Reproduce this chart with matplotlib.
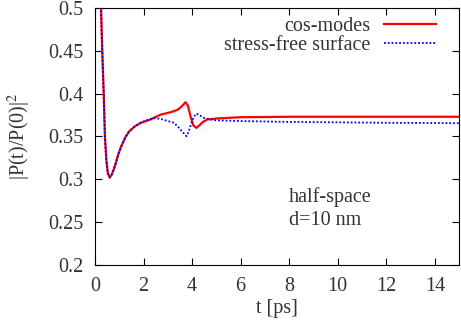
import matplotlib
matplotlib.use("Agg")
import matplotlib.pyplot as plt

plt.rcParams['font.family'] = ['Liberation Serif', 'DejaVu Serif']
plt.rcParams['mathtext.fontset'] = 'stix'

# red: cos-modes
t_cos = [0.2, 0.25, 0.3, 0.36, 0.41, 0.47, 0.53, 0.61, 0.7, 0.78, 0.86, 0.97, 1.09, 1.25,
         1.41, 1.65, 1.9, 2.3, 2.7, 3.0, 3.25, 3.45, 3.6, 3.73, 3.83, 3.93, 4.05, 4.18,
         4.3, 4.45, 4.62, 5.0, 6.0, 8.0, 10.0, 15.0]
p_cos = [0.56, 0.50, 0.45, 0.40, 0.35, 0.322, 0.307, 0.302, 0.306, 0.312, 0.319, 0.330,
         0.339, 0.349, 0.356, 0.362, 0.366, 0.370, 0.3755, 0.3775, 0.3795, 0.382, 0.386,
         0.390, 0.386, 0.374, 0.363, 0.360, 0.363, 0.367, 0.3698, 0.371, 0.3725, 0.373,
         0.373, 0.373]

# blue: stress-free surface
t_sf = [0.2, 0.25, 0.3, 0.36, 0.41, 0.47, 0.53, 0.61, 0.7, 0.78, 0.86, 0.97, 1.09, 1.25,
        1.41, 1.65, 1.9, 2.4, 2.7, 3.0, 3.25, 3.4, 3.52, 3.65, 3.77, 3.85, 3.93, 4.05,
        4.18, 4.3, 4.48, 4.9, 6.0, 8.0, 12.0, 15.0]
p_sf = [0.56, 0.50, 0.45, 0.40, 0.35, 0.322, 0.307, 0.302, 0.306, 0.312, 0.319, 0.330,
        0.339, 0.349, 0.356, 0.362, 0.3665, 0.3715, 0.3706, 0.368, 0.366, 0.362, 0.358,
        0.354, 0.3503, 0.355, 0.362, 0.372, 0.3767, 0.375, 0.3717, 0.369, 0.368, 0.367,
        0.366, 0.3655]

fs = 14.5

fig = plt.figure(figsize=(4.61, 3.23), dpi=100)
ax = fig.add_axes([0.206, 0.18, 0.79, 0.795])

ax.plot(t_cos, p_cos, color='#ff0000', lw=1.6, label='cos-modes')
ax.plot(t_sf, p_sf, color='#0000ff', lw=1.3, ls=(0, (1, 1.1)), label='stress-free surface')

ax.set_xlim(0, 15)
ax.set_ylim(0.2, 0.5)
ax.set_xticks(range(0, 15, 2))
ax.set_yticks([0.2, 0.25, 0.3, 0.35, 0.4, 0.45, 0.5])
ax.set_yticklabels(['0.2', '0.25', '0.3', '0.35', '0.4', '0.45', '0.5'])
ax.tick_params(direction='in', top=True, right=True, labelsize=fs, length=5,
               labelcolor='#333333')
ax.tick_params(axis='x', pad=9)
ax.tick_params(axis='y', pad=8)
ax.set_xlabel('t [ps]', fontsize=fs, labelpad=2, color='#333333')
ax.set_ylabel('|P(t)/P(0)|$^2$', fontsize=fs, labelpad=11, color='#333333')

ax.text(8.0, 0.2657, 'half-space\nd=10 nm', fontsize=fs, linespacing=1.25,
        va='center', color='#333333')

leg = ax.legend(loc='upper right', bbox_to_anchor=(0.959, 0.998), frameon=False,
                markerfirst=False, fontsize=fs, handlelength=2.6, borderaxespad=0,
                labelspacing=0.0, handletextpad=0.65)
for txt in leg.get_texts():
    txt.set_color('#333333')

fig.savefig('out.png', dpi=100)
